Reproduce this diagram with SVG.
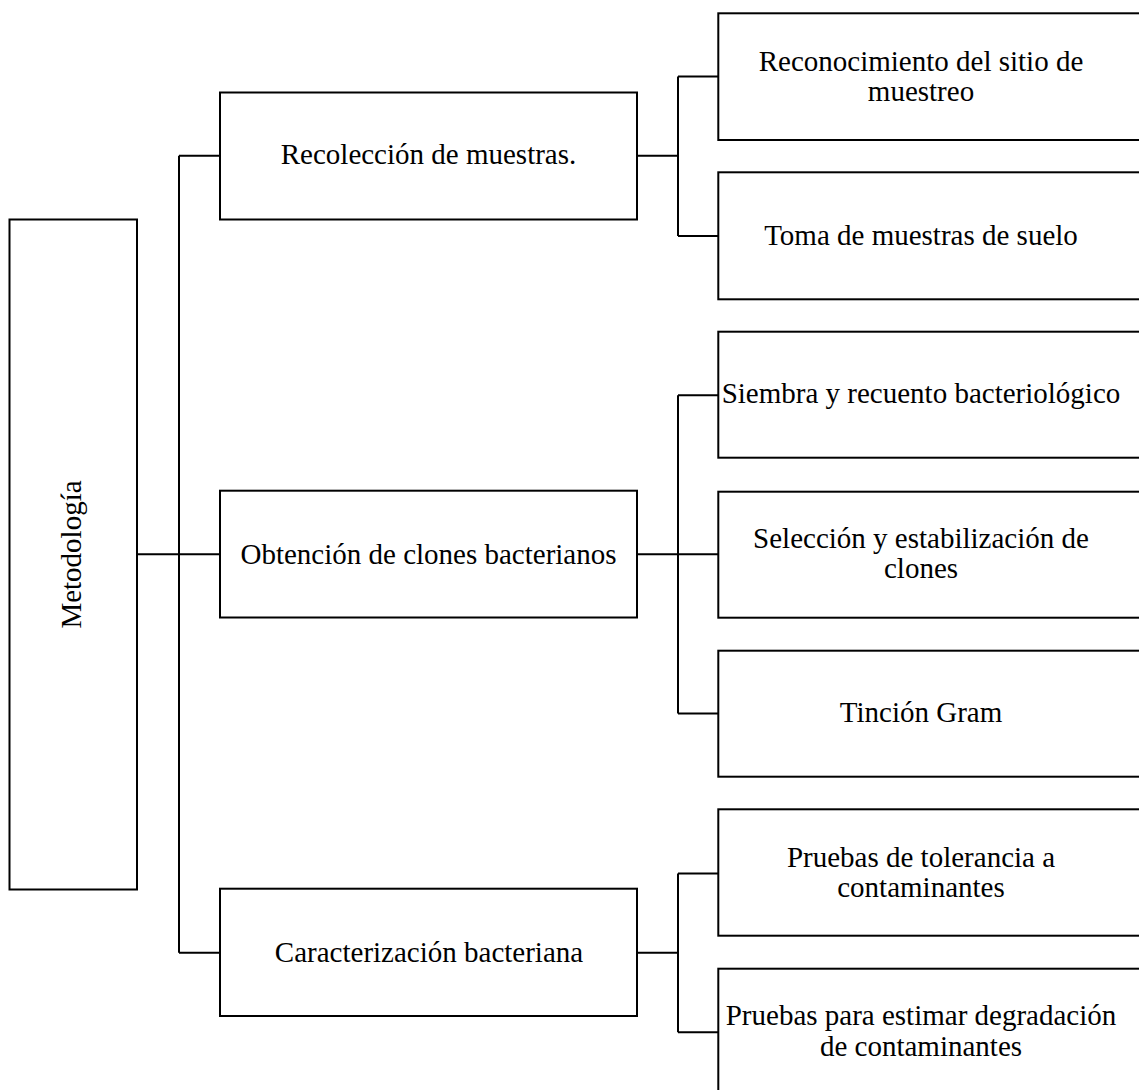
<svg xmlns="http://www.w3.org/2000/svg" width="1139" height="1090" viewBox="0 0 1139 1090">
<style>
.box{fill:#fff;stroke:#000;stroke-width:2}
.t{font-family:"Liberation Serif","Times New Roman",serif;font-size:29px;fill:#000;text-anchor:middle}
.c{fill:none;stroke:#000;stroke-width:2}
</style>
<rect width="1139" height="1090" fill="#fff"/>
<g id="connectors">
<path class="c" d="M137 554.3H220M179 155.7V952.7M179 155.7H220M179 952.7H220"/>
<path class="c" d="M637 155.7H678M678 76.5V236M678 76.5H718M678 236H718"/>
<path class="c" d="M637 554.3H718M678 395.3V713.5M678 395.3H718M678 713.5H718"/>
<path class="c" d="M637 952.7H678M678 873.5V1032.3M678 873.5H718M678 1032.3H718"/>
</g>
<g id="n-metodologia">
<rect class="box" x="9.5" y="219.5" width="127.5" height="670"/>
<text class="t" transform="translate(81,554.5) rotate(-90)" x="0" y="0">Metodología</text>
</g>
<g id="n-recoleccion">
<rect class="box" x="220" y="92.5" width="417" height="127"/>
<text class="t" x="428.5" y="164.3">Recolección de muestras.</text>
</g>
<g id="n-obtencion">
<rect class="box" x="220" y="490.7" width="417" height="126.8"/>
<text class="t" x="428.5" y="563.5">Obtención de clones bacterianos</text>
</g>
<g id="n-caracterizacion">
<rect class="box" x="220" y="888.7" width="417" height="127.3"/>
<text class="t" x="429" y="962.3">Caracterización bacteriana</text>
</g>
<g id="n-reconocimiento">
<rect class="box" x="718.3" y="13.3" width="422" height="126.7"/>
<text class="t" x="921" y="70.7">Reconocimiento del sitio de</text>
<text class="t" x="921" y="100.7">muestreo</text>
</g>
<g id="n-toma">
<rect class="box" x="718.3" y="172.3" width="422" height="127"/>
<text class="t" x="921" y="245">Toma de muestras de suelo</text>
</g>
<g id="n-siembra">
<rect class="box" x="718.3" y="331.7" width="422" height="126"/>
<text class="t" x="921" y="403.3">Siembra y recuento bacteriológico</text>
</g>
<g id="n-seleccion">
<rect class="box" x="718.3" y="491.7" width="422" height="126"/>
<text class="t" x="921" y="547.7">Selección y estabilización de</text>
<text class="t" x="921" y="578.3">clones</text>
</g>
<g id="n-tincion">
<rect class="box" x="718.3" y="650.7" width="422" height="126"/>
<text class="t" x="921" y="721.7">Tinción Gram</text>
</g>
<g id="n-tolerancia">
<rect class="box" x="718.3" y="809.3" width="422" height="126.4"/>
<text class="t" x="921" y="866.7">Pruebas de tolerancia a</text>
<text class="t" x="921" y="896.7">contaminantes</text>
</g>
<g id="n-degradacion">
<rect class="box" x="718.3" y="968.7" width="422" height="127"/>
<text class="t" x="921" y="1025">Pruebas para estimar degradación</text>
<text class="t" x="921" y="1056">de contaminantes</text>
</g>
</svg>
